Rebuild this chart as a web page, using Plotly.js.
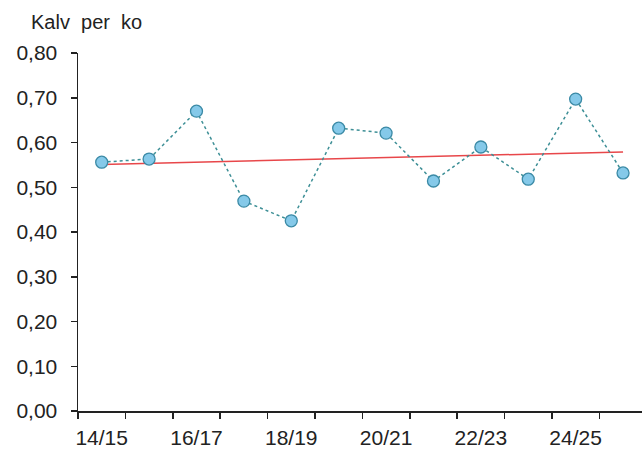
<!DOCTYPE html>
<html>
<head>
<meta charset="utf-8">
<script src="https://cdn.plot.ly/plotly-3.0.1.min.js"></script>
<style>
  html, body { margin: 0; padding: 0; background: #fff; }
  #chart { width: 642px; height: 450px; }
</style>
</head>
<body>
<div id="chart"></div>
<script>
// seasons (every season is a point, only every other one gets a label)
const seasons = ['14/15', '15/16', '16/17', '17/18', '18/19', '19/20',
                 '20/21', '21/22', '22/23', '23/24', '24/25', '25/26'];
const calvesPerCow = [0.556, 0.563, 0.670, 0.469, 0.425, 0.632,
                      0.621, 0.514, 0.590, 0.518, 0.697, 0.532];
// linear trend, start and end value
const trendSeasons = ['14/15', '25/26'];
const trendValues = [0.551, 0.579];
const labelSeasons = ['14/15', '16/17', '18/19', '20/21', '22/23', '24/25'];
const yTicks = [0, 0.1, 0.2, 0.3, 0.4, 0.5, 0.6, 0.7, 0.8];

const idx = s => seasons.indexOf(s);
// tick marks sit on the borders between seasons
const borders = seasons.map((s, i) => i - 0.5);

const trend = {
    x: trendSeasons.map(idx),
    y: trendValues,
    mode: 'lines',
    line: { color: '#e8474a', width: 1.5 },
    hoverinfo: 'skip'
};

const series = {
    x: seasons.map(idx),
    y: calvesPerCow,
    mode: 'lines+markers',
    line: { color: '#3d8f96', width: 1.5, dash: 'dot' },
    marker: { size: 12, color: '#85c9e9', line: { color: '#3b8aa6', width: 1.3 } }
};

// an empty trace on the second x axis so that the label axis is drawn
const labelHolder = {
    x: [], y: [], xaxis: 'x2', mode: 'lines', hoverinfo: 'skip'
};

const tickFont = { family: 'Arial, "Liberation Sans", sans-serif', size: 21, color: '#222' };

const layout = {
    width: 642,
    height: 450,
    margin: { l: 78, r: 0, t: 53, b: 39 },
    paper_bgcolor: '#fff',
    plot_bgcolor: '#fff',
    showlegend: false,
    separators: ',.',
    font: { family: 'Arial, "Liberation Sans", sans-serif', size: 18, color: '#222' },
    title: {
        text: 'Kalv  per  ko',
        x: 31 / 642, xref: 'container', xanchor: 'left',
        y: 1 - 22 / 450, yref: 'container', yanchor: 'middle',
        font: { size: 20, color: '#222' }
    },
    xaxis: {
        range: [-0.5, 11.4],
        showgrid: false,
        zeroline: false,
        showline: true,
        linecolor: '#222',
        linewidth: 1.5,
        tickvals: borders,
        ticktext: borders.map(() => ''),
        ticks: 'outside',
        ticklen: 6,
        tickcolor: '#222',
        tickwidth: 1.5
    },
    xaxis2: {
        overlaying: 'x',
        matches: 'x',
        side: 'bottom',
        showgrid: false,
        zeroline: false,
        showline: false,
        tickvals: labelSeasons.map(idx),
        ticktext: labelSeasons,
        ticks: '',
        ticklabelstandoff: 12,
        tickfont: tickFont
    },
    yaxis: {
        range: [0, 0.8],
        showgrid: false,
        zeroline: false,
        showline: true,
        linecolor: '#222',
        linewidth: 1.5,
        tickvals: yTicks,
        tickformat: '.2f',
        ticks: 'outside',
        ticklen: 6,
        tickcolor: '#222',
        tickwidth: 1.5,
        ticklabelstandoff: 9,
        tickfont: tickFont
    }
};

Plotly.newPlot('chart', [trend, series, labelHolder], layout, { displayModeBar: false, staticPlot: true });
</script>
</body>
</html>
